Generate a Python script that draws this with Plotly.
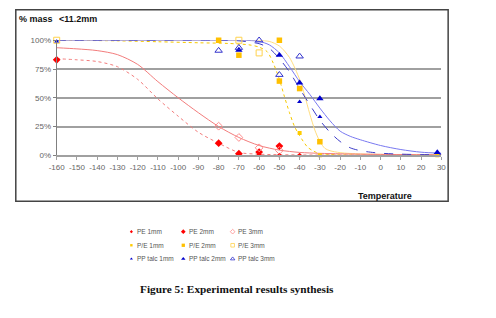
import copy
import plotly.graph_objects as go

# ---------------- data ----------------
x_ticks = [-160, -150, -140, -130, -120, -110, -100, -90, -80, -70, -60, -50,
           -40, -30, -20, -10, 0, 10, 20, 30]
y_ticks = [0, 25, 50, 75, 100]

# fitted curves
pe_solid_x = [-160, -150, -140, -130, -120, -110, -100, -90, -80, -70, -60, -50,
              -40, -30, -20, -10, 0, 10, 20, 30]
pe_solid_y = [93.5, 92.5, 91, 87.5, 79, 64, 50, 37, 25, 15.5, 8.5, 4.5,
              2.5, 1.7, 1.3, 1.0, 0.8, 0.6, 0.5, 0.4]
pe_dash_x = [-160, -150, -140, -130, -120, -110, -100, -90, -80, -70, -60, -50,
             -40, -30, -20, -10, 0, 10, 20, 30]
pe_dash_y = [84, 83, 81.5, 77, 66, 49, 34, 20, 10.5, 2.5, 1.0, 0.5,
             0.3, 0.2, 0.2, 0.2, 0.2, 0.2, 0.2, 0.2]

pp_solid_x = [-160, -120, -80, -70, -65, -60, -55, -50, -45, -40, -35, -30, -25,
              -20, -15, -10, 0, 10, 20, 30]
pp_solid_y = [100, 100, 100, 100, 99.8, 99, 96, 89, 77, 64, 53, 41, 30,
              21, 16.5, 13.5, 8.5, 5, 2.7, 1.8]
pp_dash_x = [-160, -120, -80, -70, -65, -60, -55, -50, -45, -40, -35, -30, -25,
             -20, -15, -10, -5, 0, 10, 20, 30]
pp_dash_y = [100, 100, 100, 99.5, 98.5, 97, 93, 84, 72.5, 58, 44, 30.5, 20,
             12, 6.5, 4, 2.7, 1.8, 1, 0.6, 0.5]

pef_solid_x = [-160, -100, -70, -60, -55, -50, -45, -40, -37.5, -35, -32.5, -30,
               -27.5, -25, -20, -10, 0, 10, 20, 30]
pef_solid_y = [100, 100, 100, 99.8, 99, 95, 85, 66, 52, 36, 22, 12,
               6, 4, 2.3, 1.2, 0.8, 0.6, 0.5, 0.4]
pef_dash_x = [-160, -130, -110, -90, -75, -65, -60, -56, -53, -50, -47.5, -45,
              -42.5, -40, -36, -33, -30, -25, -20, 0, 30]
pef_dash_y = [100, 99.5, 98.7, 97.8, 97.2, 96, 94, 90, 80, 66, 51, 37,
              25, 17, 7, 3.5, 1.5, 0.7, 0.4, 0.2, 0.2]

# measured points
pe1_x = [-60, -50, -40]
pe1_y = [0.5, 0, 0]
pe2_x = [-160, -80, -70, -60, -50]
pe2_y = [83, 10.5, 1.4, 2.8, 8]
pe3_x = [-80, -70, -60, -50]
pe3_y = [25.3, 15.5, 6.5, 4.2]

pef1_x = [-40, -30, 28]
pef1_y = [19.4, 0, 0]
pef2_x = [-80, -70, -50, -50, -40, -30]
pef2_y = [100, 87, 100, 64.5, 58, 11.8]
pef3_x = [-160, -70, -60]
pef3_y = [100, 100, 89]

pp1_x = [-160, -40, -30]
pp1_y = [99, 46.5, 33.5]
pp2_x = [-70, -50, -40, -30, 28]
pp2_y = [91.5, 87, 63, 49.3, 2.5]
pp3_x = [-80, -70, -60, -50, -40]
pp3_y = [91, 93.5, 100, 70, 86]

legend_labels = [["PE 1mm", "PE 2mm", "PE 3mm"],
                 ["P/E 1mm", "P/E 2mm", "P/E 3mm"],
                 ["PP talc 1mm", "PP talc 2mm", "PP talc 3mm"]]

# ---------------- styles ----------------
W, H = 496, 318
RED = "#FF0000"
RED_OPEN = "#FF8C8C"
RED_LINE = "#F27C7C"
YEL1 = "#FFCC00"
YEL2 = "#FFC000"
YEL_OPEN = "#FFD24D"
YEL_SOLID = "#FFDD80"
YEL_DASH = "#F5C800"
BLUE = "#0000CC"
BLUE_OPEN = "#3333CC"
BLUE_SOLID = "#7878F0"
BLUE_DASH = "#3C3CC8"

series_styles = [
    [dict(symbol="diamond", size=4, color=RED, line=dict(width=0)),
     dict(symbol="diamond", size=6, color=RED, line=dict(width=0)),
     dict(symbol="diamond-open", size=6, color=RED_OPEN, line=dict(width=1, color=RED_OPEN))],
    [dict(symbol="square", size=4, color=YEL1, line=dict(width=0)),
     dict(symbol="square", size=5.5, color=YEL2, line=dict(width=0)),
     dict(symbol="square-open", size=6, color=YEL_OPEN, line=dict(width=1, color=YEL_OPEN))],
    [dict(symbol="triangle-up", size=4.5, color=BLUE, line=dict(width=0)),
     dict(symbol="triangle-up", size=6.5, color=BLUE, line=dict(width=0)),
     dict(symbol="triangle-up-open", size=6.5, color=BLUE_OPEN, line=dict(width=1, color=BLUE_OPEN))],
]

def px(x):
    return x / W

def py(y):
    return 1 - y / H

fig = go.Figure()

def curve(x, y, color, dash):
    fig.add_trace(go.Scatter(x=x, y=y, mode="lines", showlegend=False,
                             line=dict(color=color, width=1, dash=dash, shape="spline",
                                       smoothing=0.8),
                             cliponaxis=False, hoverinfo="skip"))

curve(pef_dash_x, pef_dash_y, YEL_DASH, "dot")
curve(pef_solid_x, pef_solid_y, YEL_SOLID, "solid")
curve(pe_solid_x, pe_solid_y, RED_LINE, "solid")
curve(pe_dash_x, pe_dash_y, RED_LINE, "dot")
curve(pp_solid_x, pp_solid_y, BLUE_SOLID, "solid")
curve(pp_dash_x, pp_dash_y, BLUE_DASH, "dash")

points = [[(pe1_x, pe1_y), (pe2_x, pe2_y), (pe3_x, pe3_y)],
          [(pef1_x, pef1_y), (pef2_x, pef2_y), (pef3_x, pef3_y)],
          [(pp1_x, pp1_y), (pp2_x, pp2_y), (pp3_x, pp3_y)]]
for r in range(3):
    for c in range(3):
        xs, ys = points[r][c]
        fig.add_trace(go.Scatter(x=xs, y=ys, mode="markers", showlegend=False,
                                 marker=series_styles[r][c], cliponaxis=False,
                                 name=legend_labels[r][c]))

# ---------------- legend (separate full-page pixel axes) ----------------
leg_rows_y = [234.3, 248.3, 262.3]
leg_cols_x = [126.7, 180, 230.7]
annotations = []
for r in range(3):
    for c in range(3):
        st = copy.deepcopy(series_styles[r][c])
        st["size"] = st["size"] * 0.6
        if "open" in st["symbol"]:
            st["line"]["width"] = 0.8
        fig.add_trace(go.Scatter(x=[leg_cols_x[c]], y=[leg_rows_y[r]], mode="markers",
                                 xaxis="x2", yaxis="y2", showlegend=False,
                                 marker=st, hoverinfo="skip"))
        annotations.append(dict(x=px(leg_cols_x[c] + 3.5), y=py(leg_rows_y[r]),
                                xref="paper", yref="paper",
                                text=legend_labels[r][c], showarrow=False,
                                xanchor="left", yanchor="middle",
                                font=dict(family="Arial, Liberation Sans", size=6.5,
                                          color="#555")))

annotations += [
    dict(x=px(9), y=py(15), xref="paper", yref="paper", text="<b>% mass</b>", showarrow=False,
         xanchor="left", yanchor="middle",
         font=dict(family="Arial, Liberation Sans", size=9, color="#111")),
    dict(x=px(50.5), y=py(15), xref="paper", yref="paper", text="<b>&lt;11.2mm</b>",
         showarrow=False, xanchor="left", yanchor="middle",
         font=dict(family="Arial, Liberation Sans", size=9, color="#111")),
    dict(x=px(357), y=py(198), xref="paper", yref="paper", text="<b>Temperature</b>",
         showarrow=False, xanchor="left", yanchor="middle",
         font=dict(family="Arial, Liberation Sans", size=9, color="#111")),
    dict(x=px(235), y=py(293), xref="paper", yref="paper",
         text="<b>Figure 5: Experimental results synthesis</b>",
         showarrow=False, xanchor="center", yanchor="middle",
         font=dict(family="Liberation Serif, Times New Roman, serif", size=11.3, color="#111")),
]

x0, x1 = 50, 445
y_top, y_bot = 37.3, 155.7

fig.update_layout(
    width=W, height=H, margin=dict(l=0, r=0, t=0, b=0),
    paper_bgcolor="white", plot_bgcolor="rgba(0,0,0,0)",
    xaxis=dict(domain=[x0 / W, x1 / W], range=[-160, 30], tickvals=x_ticks,
               ticktext=[str(v) for v in x_ticks], showgrid=False, zeroline=False,
               showline=True, linecolor="#A0A0A0", linewidth=1.5,
               ticks="outside", ticklen=3, tickcolor="#A0A0A0",
               tickfont=dict(family="Arial, Liberation Sans", size=8, color="#666"),
               anchor="y", fixedrange=True),
    yaxis=dict(domain=[1 - y_bot / H, 1 - y_top / H], range=[0, 100], tickvals=y_ticks,
               ticktext=[f"{v}%" for v in y_ticks], showgrid=True, gridcolor="#A0A0A0",
               gridwidth=1.5, zeroline=False, showline=True, linecolor="#808080",
               linewidth=1, ticks="outside", ticklen=3, tickcolor="#808080",
               tickfont=dict(family="Arial, Liberation Sans", size=8, color="#666"),
               anchor="x", fixedrange=True),
    xaxis2=dict(domain=[0, 1], range=[0, W], visible=False, anchor="y2", fixedrange=True),
    yaxis2=dict(domain=[0, 1], range=[H, 0], visible=False, anchor="x2", fixedrange=True),
    shapes=[dict(type="rect", xref="paper", yref="paper", x0=px(8), y0=py(6), x1=px(452),
                 y1=py(203), line=dict(color="#444", width=1.5), layer="below")],
    annotations=annotations,
)

fig.write_html("out.html")
